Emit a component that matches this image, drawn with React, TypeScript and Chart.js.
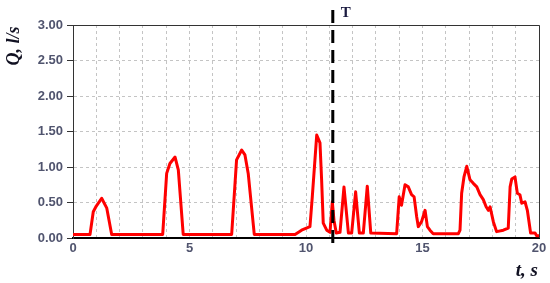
import React, { useEffect, useRef } from "react";
import { Chart, registerables } from "chart.js";

Chart.register(...registerables);

const timeValues = [
  0, 0.73, 0.87, 1.0, 1.23, 1.45, 1.66,
  3.85, 4.02, 4.16, 4.38, 4.52, 4.73,
  6.81, 7.02, 7.24, 7.38, 7.52, 7.78,
  9.53, 9.81, 10.17, 10.27, 10.46, 10.6, 10.67, 10.74, 10.89, 11.03,
  11.13, 11.2, 11.3, 11.46, 11.63, 11.82, 11.96, 12.13, 12.29, 12.46,
  12.63, 12.78, 13.89, 14.0, 14.1, 14.25, 14.39, 14.53, 14.64, 14.75,
  14.82, 14.96, 15.11, 15.21, 15.32, 15.46, 16.54, 16.61, 16.68, 16.78,
  16.9, 17.04, 17.18, 17.33, 17.47, 17.61, 17.73, 17.83, 17.9, 18.04,
  18.18, 18.47, 18.68, 18.76, 18.83, 18.97, 19.07, 19.18, 19.26, 19.4,
  19.5, 19.64, 19.83, 19.9, 20,
];

const flowValues = [
  0.05, 0.05, 0.37, 0.45, 0.56, 0.42, 0.05,
  0.05, 0.91, 1.05, 1.14, 0.96, 0.05,
  0.05, 1.1, 1.24, 1.17, 0.91, 0.05,
  0.05, 0.11, 0.16, 0.58, 1.45, 1.34, 0.82, 0.21, 0.11, 0.08,
  0.51, 0.25, 0.07, 0.08, 0.72, 0.07, 0.07, 0.65, 0.07, 0.07,
  0.73, 0.07, 0.06, 0.58, 0.46, 0.75, 0.72, 0.61, 0.58, 0.3,
  0.16, 0.23, 0.39, 0.16, 0.11, 0.06, 0.06, 0.11, 0.63, 0.86,
  1.01, 0.82, 0.77, 0.72, 0.61, 0.54, 0.44, 0.39, 0.44, 0.23,
  0.09, 0.11, 0.14, 0.72, 0.83, 0.86, 0.63, 0.61, 0.49, 0.51,
  0.39, 0.07, 0.07, 0.03, 0.03,
];

const markerTime = 11.15;
const markerLabel = "T";
const yTitle = "Q, l/s";
const xTitle = "t, s";
const xMin = 0;
const xMax = 20;
const yMin = 0;
const yMax = 3;

const tickColor = "#50546e";
const tickFont = { family: "'Liberation Sans', Arial, sans-serif", size: 13, weight: "bold" as const };

const decorPlugin = {
  id: "decor",
  afterDatasetsDraw(chart: any) {
    const { ctx, chartArea, scales } = chart;
    const { left, right, top, bottom } = chartArea;
    ctx.save();
    ctx.strokeStyle = "#333";
    ctx.lineWidth = 1;
    ctx.beginPath();
    ctx.moveTo(left, top + 0.5);
    ctx.lineTo(right + 0.5, top + 0.5);
    ctx.lineTo(right + 0.5, bottom);
    ctx.stroke();

    const mx = scales.x.getPixelForValue(markerTime);
    ctx.strokeStyle = "#000";
    ctx.lineWidth = 3;
    ctx.setLineDash([13, 7]);
    ctx.beginPath();
    ctx.moveTo(mx, top - 15);
    ctx.lineTo(mx, bottom + 12);
    ctx.stroke();
    ctx.setLineDash([]);

    ctx.fillStyle = "#1a1a40";
    ctx.font = "bold 15px 'Liberation Serif', 'Times New Roman', serif";
    ctx.textAlign = "left";
    ctx.textBaseline = "middle";
    ctx.fillText(markerLabel, mx + 8, top - 12);

    ctx.save();
    ctx.translate(14, top + 21);
    ctx.rotate(-Math.PI / 2);
    ctx.fillStyle = "#111122";
    ctx.font = "italic bold 18px 'Liberation Serif', 'Times New Roman', serif";
    ctx.textAlign = "center";
    ctx.textBaseline = "middle";
    ctx.fillText(yTitle, 0, 0);
    ctx.restore();

    ctx.fillStyle = "#111122";
    ctx.font = "italic bold 19px 'Liberation Serif', 'Times New Roman', serif";
    ctx.textAlign = "right";
    ctx.textBaseline = "middle";
    ctx.fillText(xTitle, right - 1, bottom + 33);
    ctx.restore();
  },
};

export default function App() {
  const canvasRef = useRef<HTMLCanvasElement | null>(null);

  useEffect(() => {
    if (!canvasRef.current) return;
    const points = timeValues.map((t, i) => ({ x: t, y: flowValues[i] }));
    const chart = new Chart(canvasRef.current, {
      type: "line",
      data: {
        datasets: [
          {
            data: points,
            borderColor: "#ff0000",
            borderWidth: 3,
            pointRadius: 0,
            tension: 0,
            borderJoinStyle: "round",
            fill: false,
          },
        ],
      },
      options: {
        responsive: false,
        animation: false,
        layout: { padding: { top: 25, right: 11, left: 0, bottom: 0 } },
        plugins: { legend: { display: false }, tooltip: { enabled: false } },
        scales: {
          x: {
            type: "linear",
            min: xMin,
            max: xMax,
            afterFit: (s: any) => { s.height = 45; },
            ticks: {
              stepSize: 1,
              autoSkip: false,
              maxRotation: 0,
              color: tickColor,
              font: tickFont,
              padding: 3,
              callback: (v: any) => (Number(v) % 5 === 0 ? String(v) : ""),
            },
            grid: {
              color: "#c4c4c4",
              drawTicks: false,
            } as any,
            border: { display: true, color: "#000", width: 2, dash: [3, 3] } as any,
          },
          y: {
            type: "linear",
            min: yMin,
            max: yMax,
            afterFit: (s: any) => { s.width = 73; },
            ticks: {
              stepSize: 0.5,
              color: tickColor,
              font: tickFont,
              padding: 4,
              callback: (v: any) => Number(v).toFixed(2),
            },
            grid: {
              color: "#c4c4c4",
              tickLength: 6,
              tickColor: "#333",
              tickBorderDash: [],
            } as any,
            border: { display: true, color: "#333", width: 1, dash: [3, 3] } as any,
          },
        },
      },
      plugins: [decorPlugin],
    });
    return () => chart.destroy();
  }, []);

  return (
    <div style={{ position: "absolute", left: 0, top: 0, width: 550, height: 283, background: "#fff" }}>
      <canvas ref={canvasRef} width={550} height={283} />
    </div>
  );
}
